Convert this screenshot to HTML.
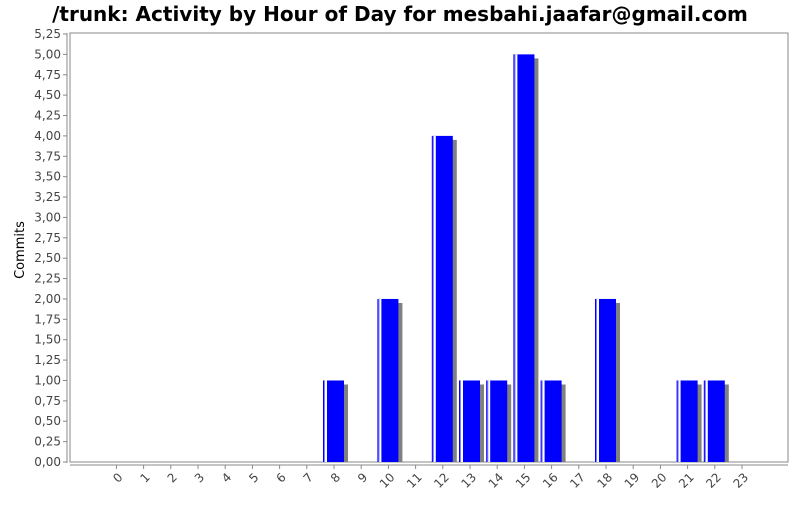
<!DOCTYPE html>
<html><head><meta charset="utf-8"><style>
body{margin:0;background:#fff;}
svg text{font-family:"DejaVu Sans","Liberation Sans",sans-serif;}
</style></head><body>
<svg id="chart" width="800" height="500">
<text x="400" y="21" text-anchor="middle" font-size="20" font-weight="bold">/trunk: Activity by Hour of Day for mesbahi.jaafar@gmail.com</text>
<text transform="translate(24,250) rotate(-90)" text-anchor="middle" font-size="13">Commits</text>
<rect x="70" y="33" width="718" height="429" fill="none" stroke="#888"/>
<g id="grid"></g><g id="bars"></g><g id="axes"></g>
</svg>
<script>
const categories=["0","1","2","3","4","5","6","7","8","9","10","11","12","13","14","15","16","17","18","19","20","21","22","23"];
const commits=[0,0,0,0,0,0,0,0,1,0,2,0,4,1,1,5,1,0,2,0,0,1,1,0];
const yTicks=[0,0.25,0.5,0.75,1,1.25,1.5,1.75,2,2.25,2.5,2.75,3,3.25,3.5,3.75,4,4.25,4.5,4.75,5,5.25];
const NS="http://www.w3.org/2000/svg";
const y0=462,yTop=34,yMax=5.25;
function yS(v){return y0-(y0-yTop)*v/yMax;}
function xS(i){return 116.4+i*27.2;}
function mk(t,a,p){const e=document.createElementNS(NS,t);for(const k in a)e.setAttribute(k,a[k]);p.appendChild(e);return e;}
const axes=document.getElementById('axes'),bars=document.getElementById('bars');
mk('line',{x1:67,y1:33,x2:67,y2:463,stroke:'#888'},axes);
mk('line',{x1:70,y1:465,x2:788,y2:465,stroke:'#888'},axes);
yTicks.forEach(v=>{
 const y=yS(v);
 const l=mk('line',{x1:63,y1:y,x2:67,y2:y,stroke:'#888'},axes);
 
 
 const t=mk('text',{x:61,y:y+4,'text-anchor':'end','font-size':12,fill:'#444'},axes);
 t.textContent=v.toFixed(2).replace('.',',');
 
 
});
categories.forEach((c,i)=>{
 const x=xS(i);
 mk('line',{x1:x,y1:465,x2:x,y2:469,stroke:'#888'},axes);
 const t=mk('text',{transform:`translate(${x+7},${478}) rotate(-45)`,'text-anchor':'end','font-size':12,fill:'#444'},axes);
 t.textContent=c;
 
 
 const v=commits[i];
 if(v>0){
  const top=yS(v),bx=x-11,w=21;
  const s=mk('rect',{x:bx+4,y:top+4,width:w,height:y0-top-4,fill:'#808080'},bars);
  
  
  const b=mk('rect',{x:bx,y:top,width:w,height:y0-top,fill:'#0000ff'},bars);
  
  
  mk('rect',{x:bx+1,y:top,width:1,height:y0-top,fill:'#8080ff'},bars);
  mk('rect',{x:bx+2,y:top,width:2,height:y0-top,fill:'#ffffff'},bars);
 }
});
</script>
</body></html>
